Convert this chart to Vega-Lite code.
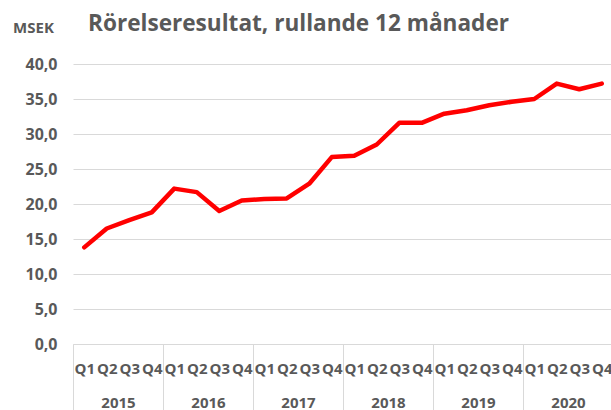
{
  "$schema": "https://vega.github.io/schema/vega-lite/v6.json",
  "autosize": "none",
  "width": 540,
  "height": 280,
  "padding": {"left": 73, "top": 64, "right": 0, "bottom": 66},
  "background": "white",
  "config": {"view": {"stroke": null}, "font": "Open Sans"},
  "title": {
    "text": "Rörelseresultat, rullande 12 månader",
    "anchor": "start",
    "frame": "group",
    "dx": 15,
    "offset": 0,
    "dy": 16,
    "fontSize": 22.6,
    "font": "Open Sans",
    "fontWeight": "bold",
    "color": "#595959"
  },
  "data": {
    "values": [
      {"period": "2015 Q1", "year": "2015", "value": 13.8},
      {"period": "2015 Q2", "year": "2015", "value": 16.5},
      {"period": "2015 Q3", "year": "2015", "value": 17.7},
      {"period": "2015 Q4", "year": "2015", "value": 18.8},
      {"period": "2016 Q1", "year": "2016", "value": 22.2},
      {"period": "2016 Q2", "year": "2016", "value": 21.7},
      {"period": "2016 Q3", "year": "2016", "value": 19.0},
      {"period": "2016 Q4", "year": "2016", "value": 20.5},
      {"period": "2017 Q1", "year": "2017", "value": 20.7},
      {"period": "2017 Q2", "year": "2017", "value": 20.8},
      {"period": "2017 Q3", "year": "2017", "value": 22.9},
      {"period": "2017 Q4", "year": "2017", "value": 26.7},
      {"period": "2018 Q1", "year": "2018", "value": 26.9},
      {"period": "2018 Q2", "year": "2018", "value": 28.5},
      {"period": "2018 Q3", "year": "2018", "value": 31.6},
      {"period": "2018 Q4", "year": "2018", "value": 31.6},
      {"period": "2019 Q1", "year": "2019", "value": 32.9},
      {"period": "2019 Q2", "year": "2019", "value": 33.4},
      {"period": "2019 Q3", "year": "2019", "value": 34.1},
      {"period": "2019 Q4", "year": "2019", "value": 34.6},
      {"period": "2020 Q1", "year": "2020", "value": 35.0},
      {"period": "2020 Q2", "year": "2020", "value": 37.2},
      {"period": "2020 Q3", "year": "2020", "value": 36.4},
      {"period": "2020 Q4", "year": "2020", "value": 37.2}
    ]
  },
  "encoding": {
    "y": {
      "field": "value",
      "type": "quantitative",
      "scale": {"domain": [0, 40], "nice": false},
      "axis": {
        "title": "MSEK",
        "titleAngle": 0,
        "titleX": -40,
        "titleY": -37,
        "titleAlign": "center",
        "titleBaseline": "middle",
        "titleFont": "Open Sans",
        "titleFontSize": 15,
        "titleFontWeight": "bold",
        "titleColor": "#595959",
        "values": [0, 5, 10, 15, 20, 25, 30, 35, 40],
        "tickCount": 10,
        "labelExpr": "replace(format(datum.value, '.1f'), '.', ',')",
        "labelFont": "Open Sans",
        "labelFontSize": 16,
        "labelFontWeight": "bold",
        "labelColor": "#595959",
        "labelPadding": 16,
        "labelOverlap": false,
        "ticks": false,
        "domain": false,
        "grid": true,
        "gridColor": "#d9d9d9",
        "gridWidth": 1
      }
    }
  },
  "layer": [
    {
      "mark": {"type": "line", "color": "#ff0000", "strokeWidth": 4.5, "strokeJoin": "round", "strokeCap": "round"},
      "encoding": {
        "x": {
          "field": "period",
          "type": "ordinal",
          "scale": {"paddingInner": 0, "paddingOuter": 0},
          "axis": {
            "orient": "bottom",
            "title": null,
            "labelExpr": "slice(datum.label, 5)",
            "labelAngle": 0,
            "labelFont": "Open Sans",
            "labelFontSize": 15,
            "labelFontWeight": "bold",
            "labelColor": "#595959",
            "labelBaseline": "middle",
            "labelPadding": 24,
            "labelOverlap": false,
            "ticks": false,
            "tickSize": 0,
            "domain": true,
            "domainColor": "#d9d9d9",
            "domainWidth": 1,
            "grid": false
          }
        }
      }
    },
    {
      "mark": {"type": "point", "opacity": 0},
      "encoding": {
        "x": {
          "field": "year",
          "type": "ordinal",
          "scale": {"paddingInner": 0, "paddingOuter": 0},
          "axis": {
            "orient": "bottom",
            "offset": 0,
            "title": null,
            "labelAngle": 0,
            "labelFont": "Open Sans",
            "labelFontSize": 15,
            "labelFontWeight": "bold",
            "labelColor": "#595959",
            "labelBaseline": "middle",
            "labelPadding": -8,
            "labelOverlap": false,
            "ticks": true,
            "tickBand": "extent",
            "tickSize": 66,
            "tickColor": "#d9d9d9",
            "tickWidth": 1,
            "domain": false,
            "grid": false
          }
        }
      }
    }
  ],
  "resolve": {"scale": {"x": "independent"}, "axis": {"x": "independent"}}
}
